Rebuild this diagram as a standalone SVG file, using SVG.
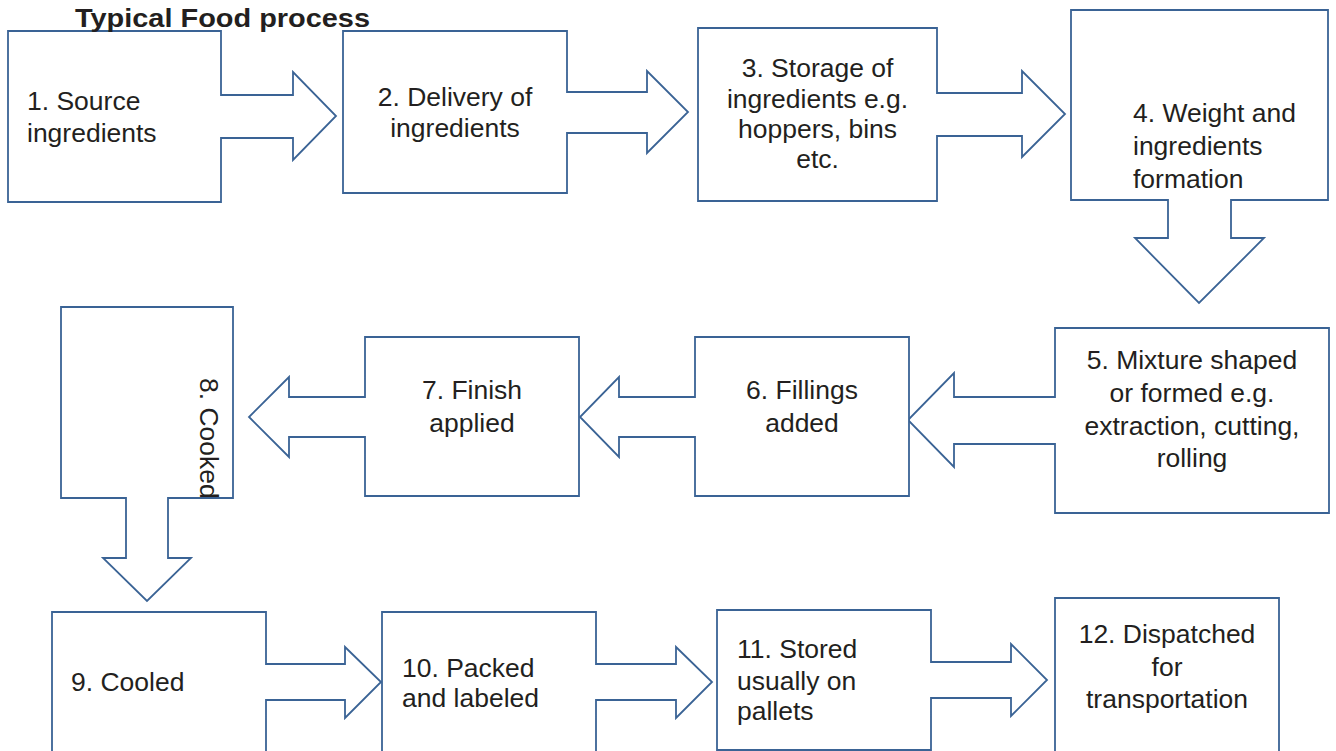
<svg xmlns="http://www.w3.org/2000/svg" width="1336" height="751" viewBox="0 0 1336 751">
  <style>
    .shape { fill: #ffffff; stroke: #3a6395; stroke-width: 1.8; stroke-linejoin: miter; }
    .lbl { font-family: "Liberation Sans", Arial, Helvetica, sans-serif; font-size: 25px; fill: #231f20; }
    .mid { text-anchor: middle; }
    .title { font-family: "Liberation Sans", Arial, Helvetica, sans-serif; font-size: 25px; font-weight: bold; fill: #231f20; }
  </style>
  <defs>
    <clipPath id="clip8">
      <rect x="61" y="307" width="172" height="191"/>
    </clipPath>
  </defs>
  <rect width="1336" height="751" fill="#ffffff"/>

  <!-- each step is a callout box whose outline carries its own block arrow -->
  <g id="step1">
    <path class="shape" d="M8,31 H221 V95 H293 V72 L336,116 L293,160 V138 H221 V202 H8 Z"/>
    <text class="lbl" transform="translate(27,110) scale(1.06,1)"><tspan x="0" y="0">1. Source</tspan><tspan x="0" y="32">ingredients</tspan></text>
  </g>

  <g id="title">
    <text class="title" x="75" y="27" textLength="295" lengthAdjust="spacingAndGlyphs">Typical Food process</text>
  </g>

  <g id="step2">
    <path class="shape" d="M343,31 H567 V92 H647 V71 L688,112 L647,153 V133 H567 V193 H343 Z"/>
    <text class="lbl mid" transform="translate(455,106) scale(1.06,1)"><tspan x="0" y="0">2. Delivery of</tspan><tspan x="0" y="31">ingredients</tspan></text>
  </g>

  <g id="step3">
    <path class="shape" d="M698,28 H937 V93 H1022 V71 L1065,114 L1022,157 V136 H937 V201 H698 Z"/>
    <text class="lbl mid" transform="translate(817.5,77) scale(1.06,1)"><tspan x="0" y="0">3. Storage of</tspan><tspan x="0" y="31">ingredients e.g.</tspan><tspan x="0" y="61">hoppers, bins</tspan><tspan x="0" y="91">etc.</tspan></text>
  </g>

  <g id="step4">
    <path class="shape" d="M1071,10 H1328 V200 H1231 V238 H1264 L1199,303 L1135,238 H1168 V200 H1071 Z"/>
    <text class="lbl" transform="translate(1133,122) scale(1.06,1)"><tspan x="0" y="0">4. Weight and</tspan><tspan x="0" y="33">ingredients</tspan><tspan x="0" y="66">formation</tspan></text>
  </g>

  <g id="step5">
    <path class="shape" d="M1055,328 H1329 V513 H1055 V444 H954 V467 L908,420 L954,373 V397 H1055 Z"/>
    <text class="lbl mid" transform="translate(1192,369) scale(1.06,1)"><tspan x="0" y="0">5. Mixture shaped</tspan><tspan x="0" y="33">or formed e.g.</tspan><tspan x="0" y="66">extraction, cutting,</tspan><tspan x="0" y="98">rolling</tspan></text>
  </g>

  <g id="step6">
    <path class="shape" d="M695,337 H909 V496 H695 V437 H619 V457 L580,417 L619,377 V397 H695 Z"/>
    <text class="lbl mid" transform="translate(802,399) scale(1.06,1)"><tspan x="0" y="0">6. Fillings</tspan><tspan x="0" y="33">added</tspan></text>
  </g>

  <g id="step7">
    <path class="shape" d="M365,337 H579 V496 H365 V437 H289 V457 L249,417 L289,377 V397 H365 Z"/>
    <text class="lbl mid" transform="translate(472,399) scale(1.06,1)"><tspan x="0" y="0">7. Finish</tspan><tspan x="0" y="33">applied</tspan></text>
  </g>

  <g id="step8">
    <path class="shape" d="M61,307 H233 V498 H168 V558 H191 L147,601 L103,558 H126 V498 H61 Z"/>
    <g clip-path="url(#clip8)">
      <text class="lbl" transform="translate(200,378) rotate(90) scale(1.06,1)">8. Cooked</text>
    </g>
  </g>

  <g id="step9">
    <path class="shape" d="M52,770 V612 H266 V664 H345 V647 L381,682 L345,718 V700 H266 V770 Z"/>
    <text class="lbl" transform="translate(71,691) scale(1.06,1)">9. Cooled</text>
  </g>

  <g id="step10">
    <path class="shape" d="M382,770 V612 H596 V664 H676 V647 L712,682 L676,718 V700 H596 V770 Z"/>
    <text class="lbl" transform="translate(402,677) scale(1.06,1)"><tspan x="0" y="0">10. Packed</tspan><tspan x="0" y="30">and labeled</tspan></text>
  </g>

  <g id="step11">
    <path class="shape" d="M717,610 H931 V662 H1011 V644 L1047,680 L1011,716 V698 H931 V750 H717 Z"/>
    <text class="lbl" transform="translate(737,658) scale(1.06,1)"><tspan x="0" y="0">11. Stored</tspan><tspan x="0" y="32">usually on</tspan><tspan x="0" y="62">pallets</tspan></text>
  </g>

  <g id="step12">
    <path class="shape" d="M1055,770 V598 H1279 V770"/>
    <text class="lbl mid" transform="translate(1167,643) scale(1.06,1)"><tspan x="0" y="0">12. Dispatched</tspan><tspan x="0" y="33">for</tspan><tspan x="0" y="65">transportation</tspan></text>
  </g>
</svg>
